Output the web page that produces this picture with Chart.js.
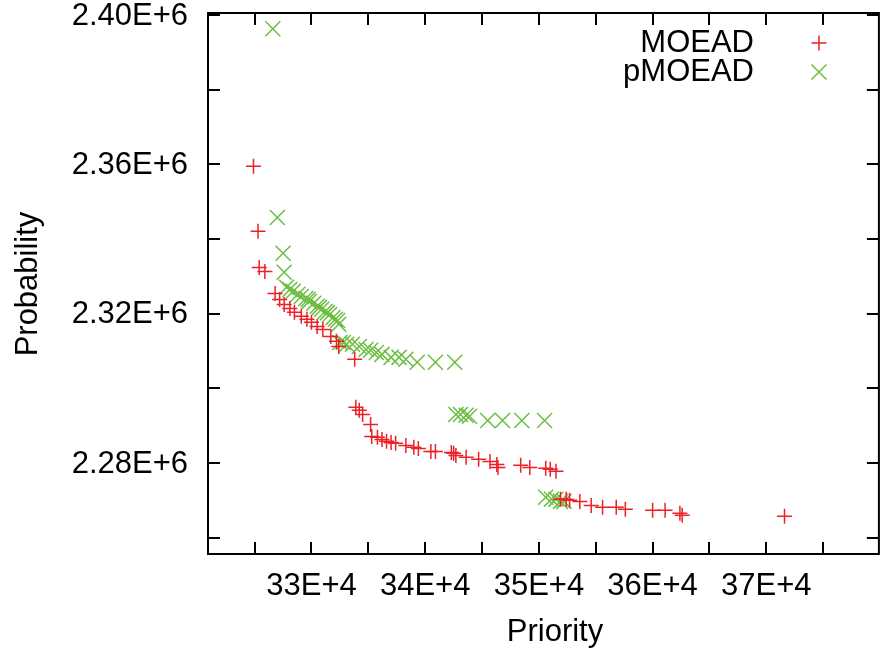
<!DOCTYPE html>
<html>
<head>
<meta charset="utf-8">
<script src="https://cdn.jsdelivr.net/npm/chart.js@4/dist/chart.umd.min.js"></script>
<style>
  body { margin: 0; background: #fff; }
  canvas { display: block; }
</style>
</head>
<body>
<canvas id="chart" width="891" height="652"></canvas>
<script>
// values (Priority, Probability)
const seriesNames = ['MOEAD', 'pMOEAD'];

const moeadPriority = [
  324900, 325300, 325400, 325900, 326800, 327200, 327600, 328100, 328500, 329100,
  329600, 330000, 330500, 331000, 331700, 332200, 332400, 333800, 333900, 334200,
  334500, 335200, 335300, 335800, 336200, 336600, 337000, 337400, 338300, 339000,
  339400, 340500, 340900, 342300, 342500, 342700, 343600, 344700, 345700, 346300,
  346400, 348400, 349200, 350600, 351000, 351500, 351900, 352400, 352700, 353600,
  354600, 355600, 356800, 357600, 360000, 361100, 362400, 362600, 371600
];
const moeadProbability = [
  2359500, 2342100, 2332400, 2331300, 2325400, 2323800, 2322500, 2321400, 2320400, 2319300,
  2318500, 2317700, 2316600, 2315800, 2313900, 2312600, 2311200, 2307800, 2294900, 2294100,
  2293000, 2290300, 2287100, 2286900, 2286300, 2285800, 2285500, 2285300, 2284700, 2284200,
  2283900, 2283100, 2283100, 2282800, 2282600, 2282000, 2281500, 2281000, 2280400, 2279600,
  2278800, 2279400, 2278800, 2278600, 2278300, 2277800, 2270300, 2270300, 2270000, 2269700,
  2268600, 2268100, 2268100, 2267600, 2267300, 2267300, 2266500, 2266000, 2265700
];

const pmoeadPriority = [
  326600, 327000, 327500, 327600, 327800, 328100, 328400, 328800, 329100, 329500,
  329700, 329800, 330200, 330500, 330700, 330900, 331200, 331400, 331600, 331900,
  332100, 332300, 332400, 332500, 332800, 333100, 333600, 334200, 334800, 335200,
  335700, 336200, 337000, 337700, 338300, 339300, 340900, 342600, 342700, 343100,
  343600, 343900, 345500, 346800, 348500, 350500, 350600, 351100, 351500, 351900,
  352200
];
const pmoeadProbability = [
  2396400, 2345800, 2336200, 2331100, 2327100, 2326500, 2326000, 2325200, 2324600, 2324100,
  2323800, 2323300, 2322800, 2322000, 2321700, 2321200, 2320600, 2320300, 2319800, 2319000,
  2318500, 2318200, 2317200, 2312300, 2312300, 2311800, 2311800, 2311200, 2310400, 2310200,
  2309600, 2309100, 2308300, 2308300, 2307800, 2307000, 2307000, 2307000, 2293000, 2293000,
  2292800, 2292500, 2291400, 2291400, 2291400, 2291400, 2270800, 2270300, 2270300, 2269700,
  2269700
];

// axis ranges and ticks (labels only on the major ones)
const xMin = 320900, xMax = 379900;
const yMin = 2255600, yMax = 2400600;
const xTicks = [325000, 330000, 335000, 340000, 345000, 350000, 355000, 360000, 365000, 370000, 375000];
const xTickLabels = { 330000: '33E+4', 340000: '34E+4', 350000: '35E+4', 360000: '36E+4', 370000: '37E+4' };
const yTicks = [2260000, 2280000, 2300000, 2320000, 2340000, 2360000, 2380000, 2400000];
const yTickLabels = { 2280000: '2.28E+6', 2320000: '2.32E+6', 2360000: '2.36E+6', 2400000: '2.40E+6' };

const RED = 'rgb(236,32,38)';
const GREEN = 'rgb(108,190,66)';
const FONT = '"Liberation Sans", Arial, sans-serif';

function toPoints(xs, ys) {
  return xs.map((x, i) => ({ x, y: ys[i] }));
}

// gnuplot-like frame: border box, inward ticks on all sides, tick labels, titles, legend
const framePlugin = {
  id: 'frame',
  afterDraw(chart) {
    const { ctx, chartArea: a, scales } = chart;
    const len = 12;
    ctx.save();
    ctx.strokeStyle = '#000';
    ctx.lineWidth = 2;
    ctx.beginPath();
    scales.x.ticks.forEach((t) => {
      const px = Math.round(scales.x.getPixelForValue(t.value));
      ctx.moveTo(px, a.bottom); ctx.lineTo(px, a.bottom - len);
      ctx.moveTo(px, a.top); ctx.lineTo(px, a.top + len);
    });
    scales.y.ticks.forEach((t) => {
      const py = Math.round(scales.y.getPixelForValue(t.value));
      ctx.moveTo(a.left, py); ctx.lineTo(a.left + len, py);
      ctx.moveTo(a.right, py); ctx.lineTo(a.right - len, py);
    });
    ctx.stroke();
    ctx.strokeRect(a.left, a.top, a.right - a.left, a.bottom - a.top);

    ctx.fillStyle = '#000';
    ctx.font = '31px ' + FONT;
    ctx.textBaseline = 'middle';

    ctx.textAlign = 'center';
    scales.x.ticks.forEach((t) => {
      const label = xTickLabels[t.value];
      if (label) ctx.fillText(label, scales.x.getPixelForValue(t.value), 586);
    });
    ctx.textAlign = 'right';
    scales.y.ticks.forEach((t) => {
      const label = yTickLabels[t.value];
      if (label) ctx.fillText(label, 188, scales.y.getPixelForValue(t.value) + 1);
    });

    ctx.textAlign = 'center';
    ctx.fillText('Priority', 555, 632);
    ctx.save();
    ctx.translate(28, 284);
    ctx.rotate(-Math.PI / 2);
    ctx.fillText('Probability', 0, 0);
    ctx.restore();

    // legend
    ctx.textAlign = 'right';
    chart.data.datasets.forEach((ds, i) => {
      const y = 43 + i * 29;
      ctx.fillStyle = '#000';
      ctx.fillText(ds.label, 754, y);
      ctx.strokeStyle = ds.borderColor;
      ctx.lineWidth = ds.borderWidth;
      ctx.beginPath();
      if (ds.pointStyle === 'cross') {
        ctx.moveTo(819 - 7.5, y); ctx.lineTo(819 + 7.5, y);
        ctx.moveTo(819, y - 7.5); ctx.lineTo(819, y + 7.5);
      } else {
        ctx.moveTo(819 - 7.5, y - 7.5); ctx.lineTo(819 + 7.5, y + 7.5);
        ctx.moveTo(819 - 7.5, y + 7.5); ctx.lineTo(819 + 7.5, y - 7.5);
      }
      ctx.stroke();
    });
    ctx.restore();
  }
};

new Chart(document.getElementById('chart').getContext('2d'), {
  type: 'scatter',
  data: {
    datasets: [{
      label: seriesNames[0],
      data: toPoints(moeadPriority, moeadProbability),
      pointStyle: 'cross',
      pointRadius: 7.5,
      borderColor: RED,
      backgroundColor: RED,
      borderWidth: 1.5,
    }, {
      label: seriesNames[1],
      data: toPoints(pmoeadPriority, pmoeadProbability),
      pointStyle: 'crossRot',
      pointRadius: 10.6,
      borderColor: GREEN,
      backgroundColor: GREEN,
      borderWidth: 1.5,
    }],
  },
  options: {
    responsive: false,
    animation: false,
    layout: { padding: { top: 13, right: 4, left: 0, bottom: 0 } },
    plugins: { legend: { display: false }, tooltip: { enabled: false } },
    scales: {
      x: {
        type: 'linear',
        min: xMin,
        max: xMax,
        grid: { display: false, drawTicks: false },
        border: { display: false },
        ticks: { display: false },
        afterBuildTicks: (scale) => { scale.ticks = xTicks.map((v) => ({ value: v })); },
        afterFit: (scale) => { scale.height = 98; },
      },
      y: {
        type: 'linear',
        min: yMin,
        max: yMax,
        grid: { display: false, drawTicks: false },
        border: { display: false },
        ticks: { display: false },
        afterBuildTicks: (scale) => { scale.ticks = yTicks.map((v) => ({ value: v })); },
        afterFit: (scale) => { scale.width = 208; },
      },
    },
  },
  plugins: [framePlugin],
});
</script>
</body>
</html>
